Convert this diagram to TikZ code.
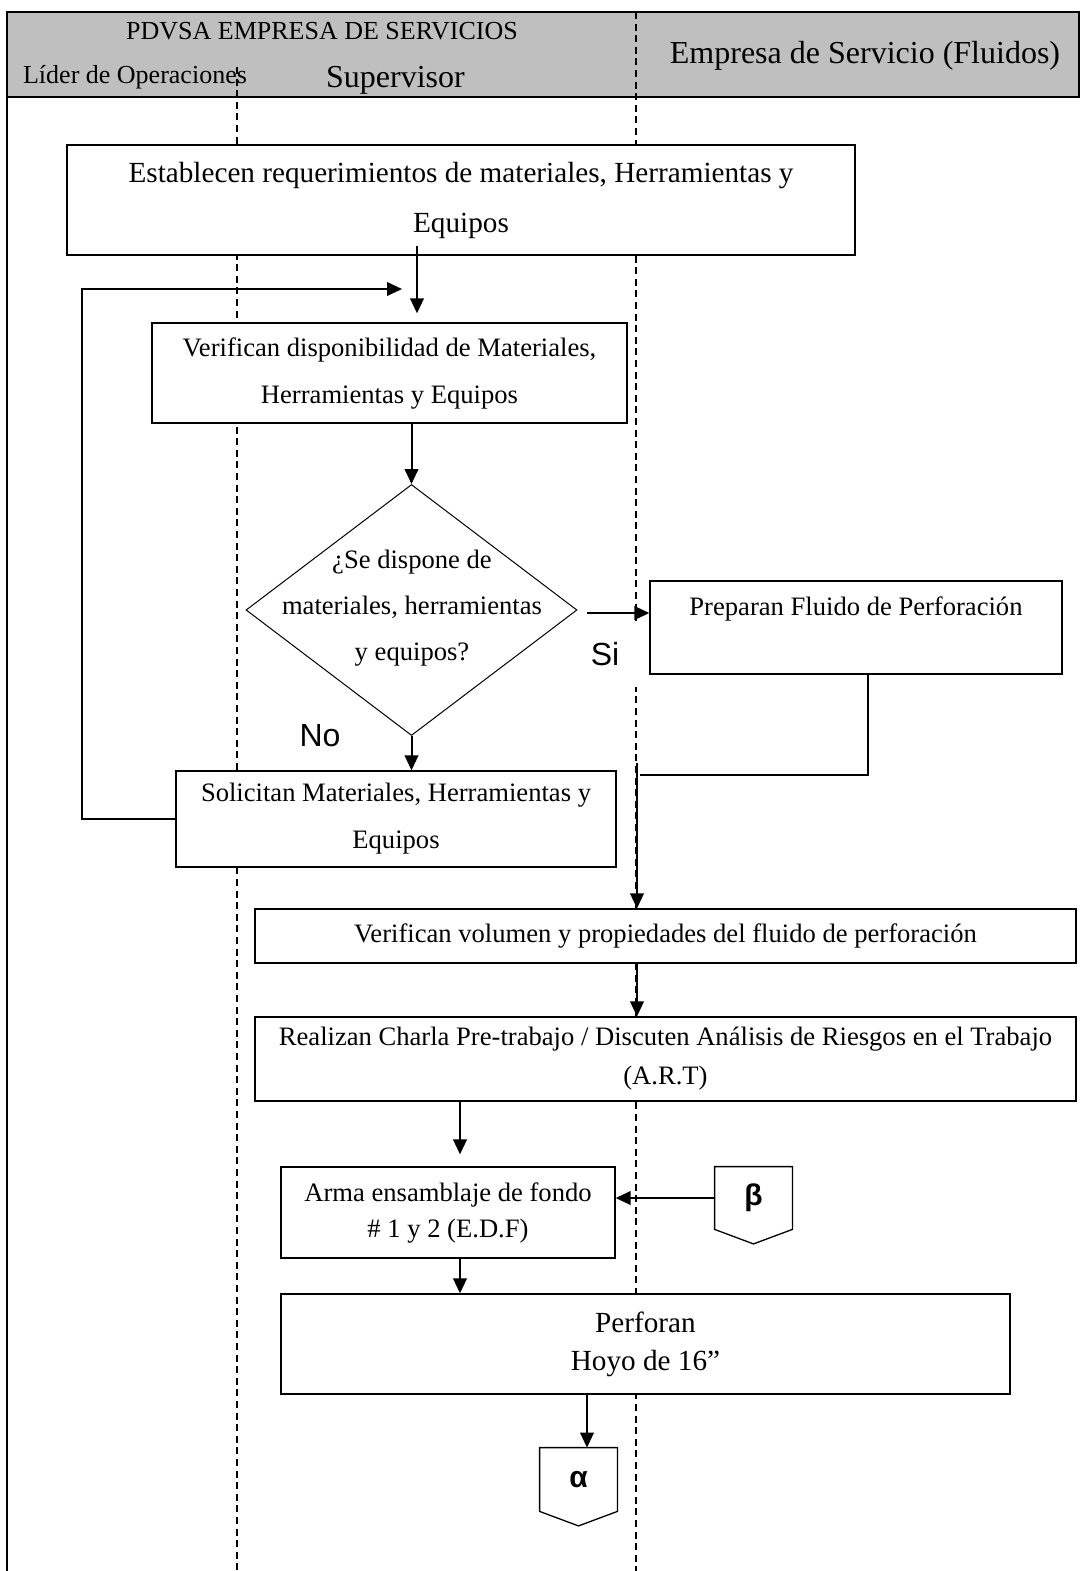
\documentclass[tikz,border=0pt]{standalone}
\usepackage{fontspec}
\setmainfont{Liberation Serif}
\newfontfamily\arialfont{Liberation Sans}
\usetikzlibrary{arrows.meta,shapes.geometric}

\begin{document}
\begin{tikzpicture}[x=0.5pt,y=-0.5pt,>={Triangle[length=7.5pt,width=6.8pt]},
	lane/.style={dash pattern=on 3.5pt off 2.3pt,line width=0.6pt},
	box/.style={draw,fill=white,line width=0.65pt,align=center,inner sep=0pt,font=\fontsize{13.3}{23.5}\selectfont},
	flow/.style={->,line width=1pt},
	yesno/.style={inner sep=0pt,font=\arialfont\fontsize{16}{16}\selectfont},
	connector/.style={inner sep=0pt,minimum width=38.5pt,font=\arialfont\bfseries\fontsize{15}{15}\selectfont},
	head/.style={anchor=base,inner sep=0pt}]

		\useasboundingbox (0,0) rectangle (1080,1571);

		% encabezado y carriles
		\draw[line width=0.85pt,fill=black!25] (7,12) rectangle (1079,97);
		\draw[line width=0.85pt] (7,97) -- (7,1571);
		\draw[lane] (237,67) -- (237,1571);
		\draw[lane] (636,12) -- (636,1571);

		\node[head,font=\fontsize{13}{13}\selectfont] (pdvsa) at (322,39) {PDVSA EMPRESA DE SERVICIOS};
		\node[head,font=\fontsize{13}{13}\selectfont] (lider) at (135,83) {Líder de Operaciones};
		\node[head,font=\fontsize{16}{16}\selectfont] (superv) at (395.5,87) {Supervisor};
		\node[head,font=\fontsize{16}{16}\selectfont] (fluidos) at (865,63) {Empresa de Servicio (Fluidos)};

		% pasos
		\node[box,minimum width=394pt,minimum height=55pt,font=\fontsize{14.6}{25}\selectfont] (est) at (461,200) {Establecen requerimientos de materiales, Herramientas y\\Equipos};
		\node[box,minimum width=237.5pt,minimum height=50pt] (ver) at (389.5,373) {Verifican disponibilidad de Materiales,\\Herramientas y Equipos};
		\node[yesno,fill=white,minimum width=38pt,minimum height=33pt] (si) at (605,654) {Si};
		\node[diamond,draw,fill=white,line width=0.5pt,minimum width=165.5pt,minimum height=125.5pt,inner sep=0pt] (dec) at (411.5,610) {};
		\node[align=center,inner sep=0pt,font=\fontsize{13.3}{23}\selectfont] (dectxt) at (412,608) {¿Se dispone de\\materiales, herramientas\\y equipos?};
		\node[box,minimum width=206pt,minimum height=46.5pt] (prep) at (856,627.5) {};
		\node[inner sep=0pt,font=\fontsize{13.3}{23.5}\selectfont] (preptxt) at (856,609) {Preparan Fluido de Perforación};
		\node[yesno] (no) at (320,735.5) {No};
		\node[box,minimum width=220pt,minimum height=48pt] (sol) at (396,819) {Solicitan Materiales, Herramientas y\\Equipos};
		\node[box,minimum width=410.5pt,minimum height=27pt] (volp) at (665.5,936) {Verifican volumen y propiedades del fluido de perforación};
		\node[box,minimum width=410.5pt,minimum height=42pt,font=\fontsize{13.3}{19.5}\selectfont] (charla) at (665.5,1059) {Realizan Charla Pre-trabajo / Discuten Análisis de Riesgos en el Trabajo\\(A.R.T)};
		\node[box,minimum width=167pt,minimum height=45.5pt,font=\fontsize{13.3}{18}\selectfont] (edf) at (448,1212.5) {Arma ensamblaje de fondo\\\# 1 y 2 (E.D.F)};
		\node[box,minimum width=364.5pt,minimum height=50pt,font=\fontsize{14.6}{19}\selectfont] (perf) at (645.5,1344) {Perforan\\Hoyo de 16”};
		\node[connector,minimum height=31pt] (beta) at (753.5,1198) {β};
		\node[connector,minimum height=31.5pt] (alpha) at (578.5,1479.5) {α};

		% conectores fuera de pagina
		\foreach \c in {beta,alpha}
			\draw[line width=0.65pt] (\c.north west) -- (\c.north east) -- (\c.south east)
				-- ([yshift=-7.25pt]\c.south) -- (\c.south west) -- cycle;

		% flechas
		\coordinate (a1) at (417,246);
		\coordinate (loopc) at (82,289);
		\coordinate (back) at (402,289);
		\coordinate (si1) at (587,613);
		\coordinate (merge) at (640,775);
		\coordinate (m2) at (637,763);
		\coordinate (c7) at ([xshift=6pt]edf.north);
		\coordinate (c8) at ([xshift=6pt]edf.south);
		\coordinate (ca) at ([xshift=4.25pt]alpha.north);

		\draw[flow,shorten >=4.5pt] (a1) -- (a1 |- ver.north);
		\draw[flow] (sol.west) -| (loopc) -- (back);
		\draw[flow] (ver.south -| dec.north) -- (dec.north);
		\draw[flow] (dec.south) -- (dec.south |- sol.north);
		\draw[flow] (si1) -- (si1 -| prep.west);
		\draw[line width=0.9pt] ([xshift=6pt]prep.south) |- (merge);
		\draw[flow] (m2) -- (m2 |- volp.north);
		\draw[flow] (volp.south -| m2) -- (m2 |- charla.north);
		\draw[flow,shorten >=6pt] (c7 |- charla.south) -- (c7);
		\draw[flow] (c8) -- (c8 |- perf.north);
		\draw[flow] (beta.west) -- (beta.west -| edf.east);
		\draw[flow] (ca |- perf.south) -- (ca);
	\end{tikzpicture}
\end{document}
